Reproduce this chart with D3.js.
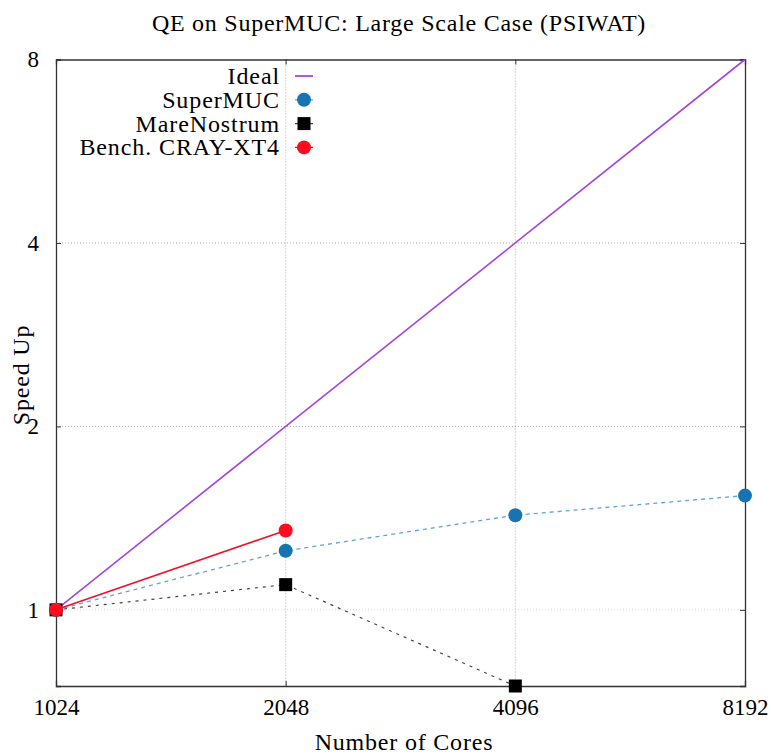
<!DOCTYPE html>
<html>
<head>
<meta charset="utf-8">
<script src="https://cdn.jsdelivr.net/npm/d3@7"></script>
<style>
  body { margin: 0; background: #fff; }
  text { font-family: "Liberation Serif", "DejaVu Serif", serif; fill: #000; }
</style>
</head>
<body>
<div id="container"></div>
<script>
// data
let cores = [1024, 2048, 4096, 8192];
let yTicks = [1, 2, 4, 8];
let ideal = [1, 2, 4, 8];
let superMUC = [1, 1.25, 1.43, 1.54];
let mareNostrum = [1, 1.10, 0.75];
let crayXT4 = [1, 1.35];

let w = 771, h = 755;
let pLeft = 56, pRight = 745, pTop = 59.5, pBottom = 686;
let fs = 24;

let svg = d3.select("#container").append("svg")
  .attr("width", w)
  .attr("height", h);

let x = d3.scaleLog().base(2).domain([1024, 8192]).range([pLeft, pRight]);
let y = d3.scaleLog().base(2).domain([0.75, 8]).range([pBottom, pTop]);

// grid
svg.append("g").selectAll("line")
  .data(cores.slice(1, 3))
  .join("line")
  .attr("x1", d => x(d)).attr("x2", d => x(d))
  .attr("y1", pTop).attr("y2", pBottom)
  .attr("stroke", "#999").attr("stroke-width", 0.8)
  .attr("stroke-dasharray", "1,2");
svg.append("g").selectAll("line")
  .data(yTicks.slice(0, 3))
  .join("line")
  .attr("x1", pLeft).attr("x2", pRight)
  .attr("y1", d => y(d)).attr("y2", d => y(d))
  .attr("stroke", d => d == 1 ? "#ccc" : "#999").attr("stroke-width", 0.8)
  .attr("stroke-dasharray", "1,2");

// axes: inward ticks, mirrored
let fmt = d3.format("d");
let xAxis = svg.append("g").attr("transform", `translate(0,${pBottom})`)
  .call(d3.axisBottom(x).tickValues(cores).tickFormat(fmt).tickSize(-5).tickPadding(13));
let xTop = svg.append("g").attr("transform", `translate(0,${pTop})`)
  .call(d3.axisTop(x).tickValues(cores).tickFormat("").tickSize(-5));
let yAxis = svg.append("g").attr("transform", `translate(${pLeft},0)`)
  .call(d3.axisLeft(y).tickValues(yTicks).tickFormat(fmt).tickSize(-5).tickPadding(17));
let yRight = svg.append("g").attr("transform", `translate(${pRight},0)`)
  .call(d3.axisRight(y).tickValues(yTicks).tickFormat("").tickSize(-5));
[xAxis, xTop, yAxis, yRight].forEach(a => {
  a.select(".domain").attr("stroke", "#333").attr("stroke-width", 1.3);
  a.selectAll(".tick line").attr("stroke", "#333");
  a.selectAll("text").attr("font-size", fs - 1).attr("font-family", "Liberation Serif").attr("fill", "#000");
});

// series
let line = d3.line().x(d => x(d[0])).y(d => y(d[1]));
let pairs = arr => arr.map((v, i) => [cores[i], v]);

svg.append("path").datum(pairs(ideal))
  .attr("d", line).attr("fill", "none")
  .attr("stroke", "#a346dc").attr("stroke-width", 1.6);

svg.append("path").datum(pairs(superMUC))
  .attr("d", line).attr("fill", "none")
  .attr("stroke", "#5aa5dc").attr("stroke-width", 1.3)
  .attr("stroke-dasharray", "4,4");
svg.append("g").selectAll("circle")
  .data(pairs(superMUC)).join("circle")
  .attr("cx", d => x(d[0])).attr("cy", d => y(d[1]))
  .attr("r", 7).attr("fill", "#1874b0");

svg.append("path").datum(pairs(mareNostrum))
  .attr("d", line).attr("fill", "none")
  .attr("stroke", "#444").attr("stroke-width", 1.2)
  .attr("stroke-dasharray", "3,5");
svg.append("g").selectAll("rect")
  .data(pairs(mareNostrum)).join("rect")
  .attr("x", d => x(d[0]) - 6.5).attr("y", d => y(d[1]) - 6.5)
  .attr("width", 13).attr("height", 13).attr("fill", "#000");

svg.append("path").datum(pairs(crayXT4))
  .attr("d", line).attr("fill", "none")
  .attr("stroke", "#f0102a").attr("stroke-width", 1.6);
svg.append("g").selectAll("circle")
  .data(pairs(crayXT4)).join("circle")
  .attr("cx", d => x(d[0])).attr("cy", d => y(d[1]))
  .attr("r", 7).attr("fill", "#ff0a1e");

// legend
let legend = [
  {name: "Ideal", kind: "line", color: "#a346dc"},
  {name: "SuperMUC", kind: "circle", color: "#1874b0", lc: "#5aa5dc"},
  {name: "MareNostrum", kind: "rect", color: "#000", lc: "#444"},
  {name: "Bench. CRAY-XT4", kind: "circle", color: "#ff0a1e", lc: "#f0102a"}
];
let lg = svg.append("g").selectAll("g").data(legend).join("g")
  .attr("transform", (d, i) => `translate(0,${76 + i * 23.8})`);
lg.append("text").text(d => d.name)
  .attr("x", 280).attr("y", 8).attr("text-anchor", "end")
  .attr("font-size", fs).attr("letter-spacing", 0.9);
lg.filter(d => d.kind == "line").append("line")
  .attr("x1", 295).attr("x2", 313).attr("y1", 0).attr("y2", 0)
  .attr("stroke", d => d.color).attr("stroke-width", 1.8);
lg.filter(d => d.kind != "line").append("line")
  .attr("x1", 295).attr("x2", 313).attr("y1", 0).attr("y2", 0)
  .attr("stroke", d => d.lc).attr("stroke-width", 1.3);
lg.filter(d => d.kind == "circle").append("circle")
  .attr("cx", 304).attr("cy", 0).attr("r", 7).attr("fill", d => d.color);
lg.filter(d => d.kind == "rect").append("rect")
  .attr("x", 297.5).attr("y", -6.5).attr("width", 13).attr("height", 13).attr("fill", d => d.color);

// titles
svg.append("text").text("QE on SuperMUC: Large Scale Case (PSIWAT)")
  .attr("x", 399).attr("y", 31).attr("text-anchor", "middle")
  .attr("font-size", fs).attr("letter-spacing", 0.75);
svg.append("text").text("Number of Cores")
  .attr("x", 404).attr("y", 750).attr("text-anchor", "middle")
  .attr("font-size", fs).attr("letter-spacing", 0.8);
svg.append("text").text("Speed Up")
  .attr("transform", "translate(29,375) rotate(-90)")
  .attr("text-anchor", "middle").attr("font-size", fs).attr("letter-spacing", 0.8);
</script>
</body>
</html>
